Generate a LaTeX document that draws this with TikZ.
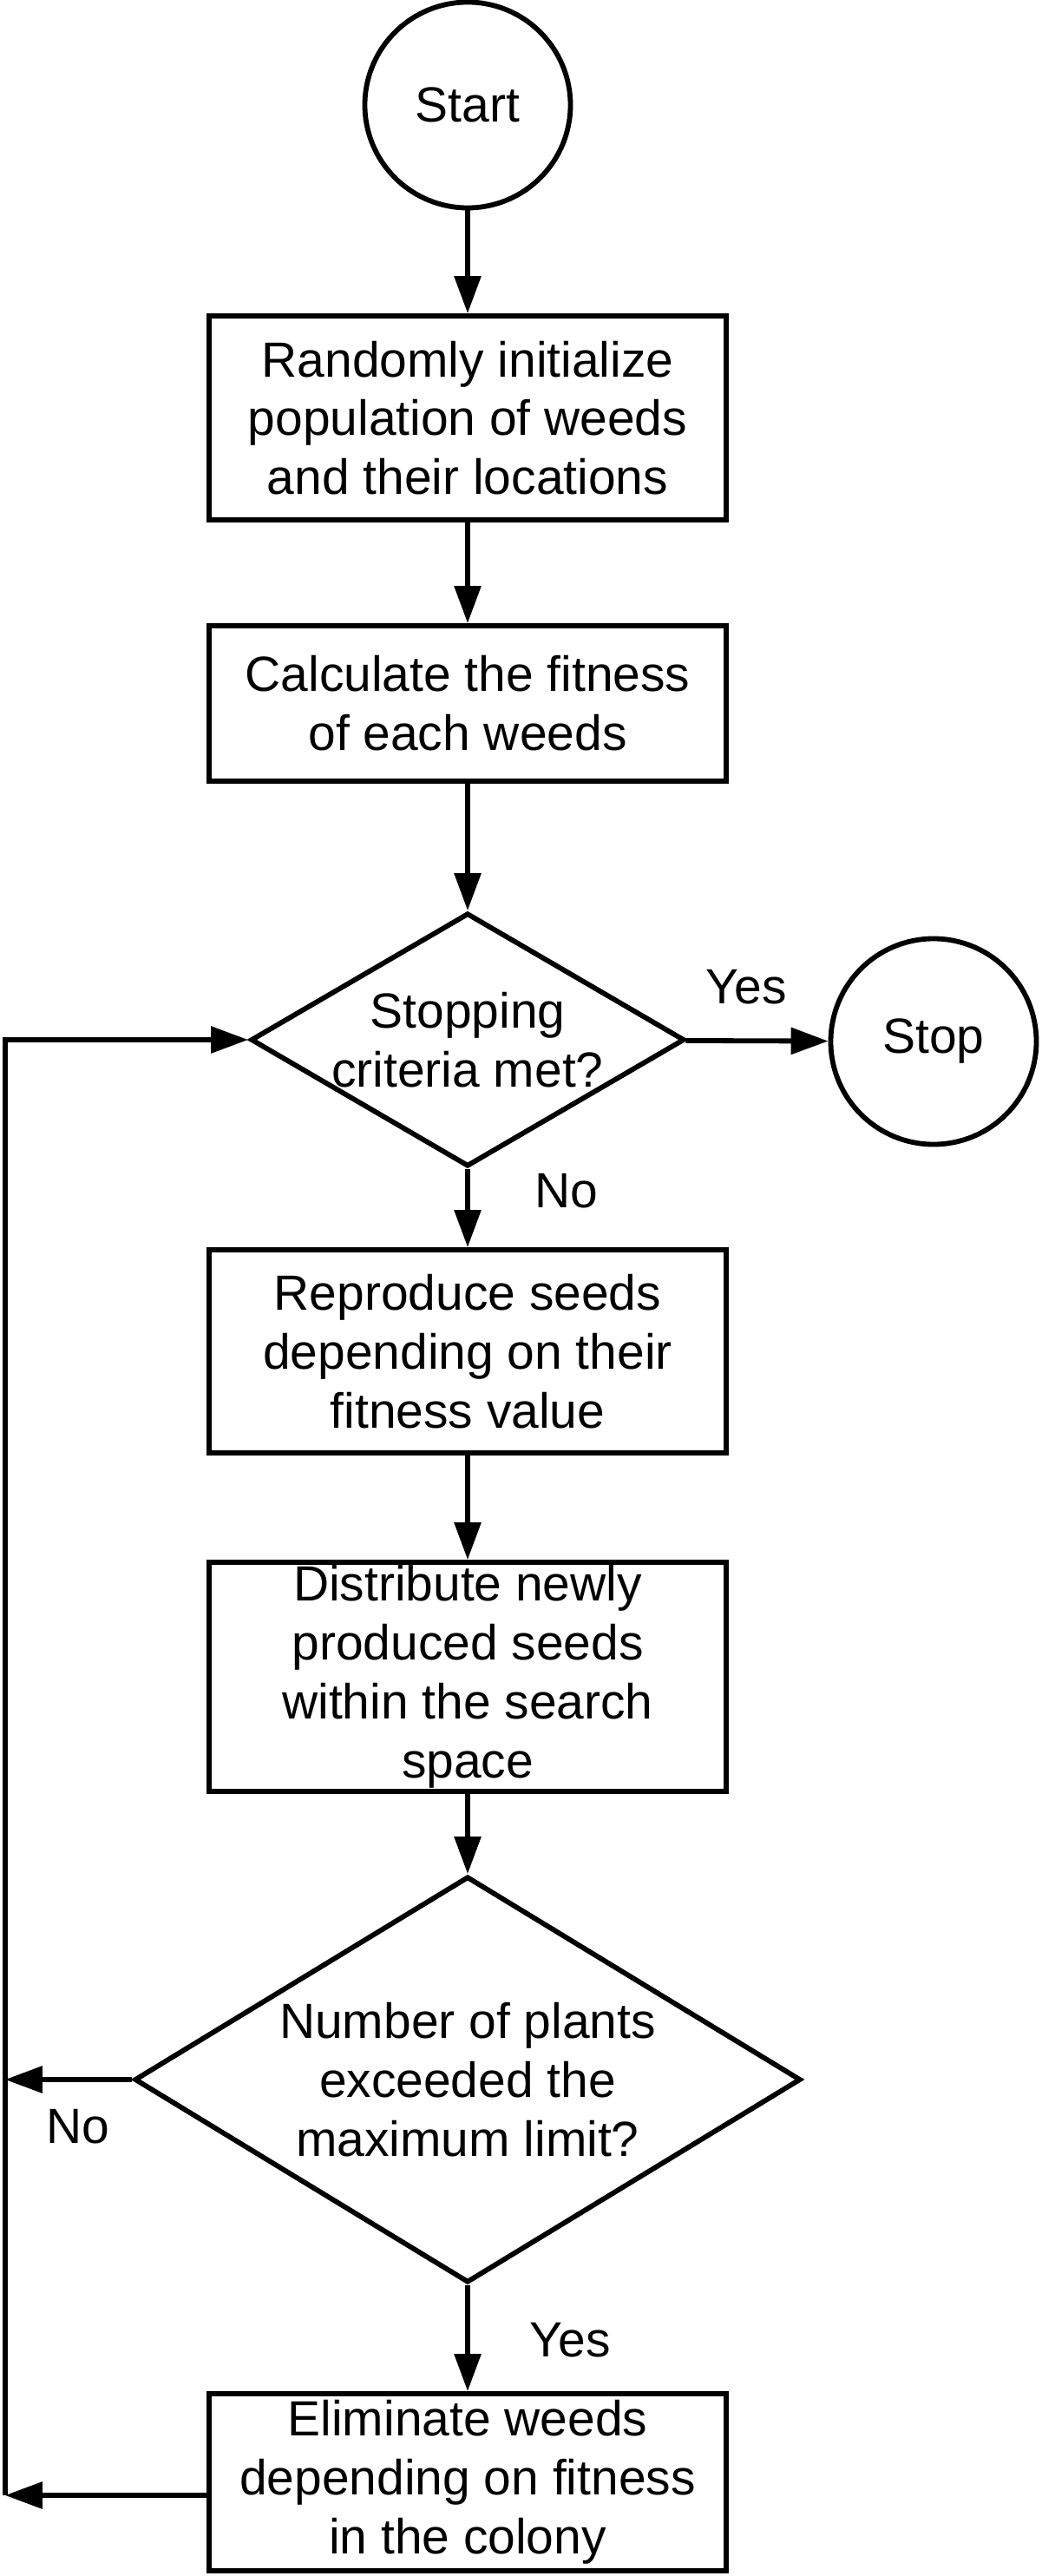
\documentclass[tikz,border=0pt]{standalone}
\usepackage{fontspec}
\setmainfont{Liberation Sans}
\usetikzlibrary{arrows.meta,positioning,shapes.geometric}

\begin{document}
\begin{tikzpicture}[line width=0.058cm,
every node/.style={font=\fontsize{16.2}{19.3}\selectfont,align=center,inner sep=0pt},
box/.style={rectangle,draw,minimum width=5.96cm},
term/.style={circle,draw,minimum size=2.37cm},
dec/.style={diamond,draw},
flow/.style={-{Triangle[length=0.43cm,width=0.30cm]}}]
\useasboundingbox (0,0) rectangle (12,-29.68);
\node[term] (C1) at (5.39,-1.21) {Start};
\node[box,minimum height=2.35cm] (B1) at (5.39,-4.815) {Randomly initialize\\population of weeds\\and their locations};
\node[box,minimum height=1.79cm] (B2) at (5.39,-8.105) {Calculate the fitness\\of each weeds};
\node[dec,minimum width=5.0cm,minimum height=2.92cm] (D1) at (5.39,-11.98) {};
\node (T1) at (D1) {Stopping\\criteria met?};
\node[term] (C2) at (10.76,-12.0) {Stop};
\node[box,minimum height=2.34cm] (B3) at (5.39,-15.57) {Reproduce seeds\\depending on their\\fitness value};
\node[box,minimum height=2.64cm] (B4) at (5.39,-19.32) {Distribute newly\\produced seeds\\within the search\\space};
\node[dec,minimum width=7.68cm,minimum height=4.68cm] (D2) at (5.39,-23.96) {};
\node (T2) at (D2) {Number of plants\\exceeded the\\maximum limit?};
\node[box,minimum height=2.04cm] (B5) at (5.39,-28.60) {Eliminate weeds\\depending on fitness\\in the colony};
\node (L1) at (8.60,-11.37) {Yes};
\node (L2) at (6.53,-13.72) {No};
\node (L3) at (0.90,-24.50) {No};
\node (L4) at (6.57,-26.96) {Yes};
\coordinate (K1) at (0.058,-28.75);
\draw[flow] (C1)--(B1);
\draw[flow] (B1)--(B2);
\draw[flow] (B2)--(D1);
\draw[flow] (D1)--(C2);
\draw[flow] (D1)--(B3);
\draw[flow] (B3)--(B4);
\draw[flow] (B4)--(D2);
\draw[flow] (D2)--(B5);
\draw[flow] (B5.west|-K1)--(K1);
\draw[flow] (D2.west)--(D2.west-|K1);
\draw[flow] (K1)|-(D1.west);
\end{tikzpicture}
\end{document}
